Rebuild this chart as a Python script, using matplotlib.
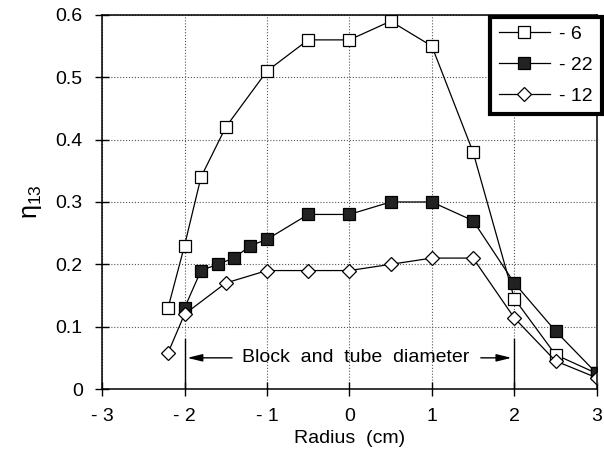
import matplotlib.pyplot as plt
import matplotlib as mpl

mpl.rcParams['font.family'] = ['Liberation Sans', 'DejaVu Sans']
mpl.rcParams['mathtext.fontset'] = 'custom'
mpl.rcParams['mathtext.rm'] = 'Liberation Sans'

# eta_13 profiles across the radius for three cases
x_6 = [-2.2, -2.0, -1.8, -1.5, -1.0, -0.5, 0.0, 0.5, 1.0, 1.5, 2.0, 2.5, 3.0]
y_6 = [0.13, 0.23, 0.34, 0.42, 0.51, 0.56, 0.56, 0.59, 0.55, 0.38, 0.145, 0.055, 0.025]

x_22 = [-2.0, -1.8, -1.6, -1.4, -1.2, -1.0, -0.5, 0.0, 0.5, 1.0, 1.5, 2.0, 2.5, 3.0]
y_22 = [0.13, 0.19, 0.20, 0.21, 0.23, 0.24, 0.28, 0.28, 0.30, 0.30, 0.27, 0.17, 0.093, 0.025]

x_12 = [-2.2, -2.0, -1.5, -1.0, -0.5, 0.0, 0.5, 1.0, 1.5, 2.0, 2.5, 3.0]
y_12 = [0.058, 0.12, 0.17, 0.19, 0.19, 0.19, 0.20, 0.21, 0.21, 0.114, 0.045, 0.018]

xticks = [-3, -2, -1, 0, 1, 2, 3]
xtick_labels = ['- 3', '- 2', '- 1', '0', '1', '2', '3']
yticks = [0, 0.1, 0.2, 0.3, 0.4, 0.5, 0.6]
ytick_labels = ['0', '0.1', '0.2', '0.3', '0.4', '0.5', '0.6']

fig = plt.figure(figsize=(6.04, 4.67), dpi=100)
ax = fig.add_axes([0.169, 0.167, 0.819, 0.801])

ax.plot(x_6, y_6, '-', color='k', lw=0.9, marker='s', ms=8.5, mfc='white', mec='k', mew=0.9, label='- 6')
ax.plot(x_22, y_22, '-', color='k', lw=0.9, marker='s', ms=8.5, mfc='#222222', mec='k', mew=0.9, label='- 22')
ax.plot(x_12, y_12, '-', color='k', lw=0.9, marker='D', ms=7, mfc='white', mec='k', mew=0.9, label='- 12')

ax.set_xlim(-3, 3)
ax.set_ylim(0, 0.6)
ax.set_xticks(xticks)
ax.set_xticklabels(xtick_labels)
ax.set_yticks(yticks)
ax.set_yticklabels(ytick_labels)
ax.tick_params(direction='inout', length=10, width=1, labelsize=14)
ax.tick_params(axis='x', pad=9)
ax.tick_params(axis='y', pad=9)
ax.grid(True, linestyle=':', color='#555555', lw=0.8)
for s in ax.spines.values():
    s.set_linewidth(1.1)

ax.set_xlabel('Radius  (cm)', fontsize=14, labelpad=3)
ax.set_ylabel(r'$\mathregular{\eta_{13}}$', fontsize=18, labelpad=8)

# block / tube diameter marker
ax.plot([-2, -2], [0, 0.08], color='k', lw=1)
ax.plot([2, 2], [0, 0.08], color='k', lw=1)
ax.annotate('', xy=(-2, 0.05), xytext=(-1.39, 0.05),
            arrowprops=dict(arrowstyle='-|>,head_length=0.9,head_width=0.22', color='k', lw=1))
ax.annotate('', xy=(2, 0.05), xytext=(1.56, 0.05),
            arrowprops=dict(arrowstyle='-|>,head_length=0.9,head_width=0.22', color='k', lw=1))
ax.text(0.08, 0.05, 'Block  and  tube  diameter', ha='center', va='center', fontsize=14)

leg = ax.legend(loc='upper right', bbox_to_anchor=(1.03, 1.021), fontsize=14,
                fancybox=False, shadow=False, framealpha=1, edgecolor='k',
                handlelength=2.6, borderpad=0.45, labelspacing=0.68, handletextpad=0.5)
leg.get_frame().set_linewidth(3)

fig.savefig('out.png', dpi=100)
